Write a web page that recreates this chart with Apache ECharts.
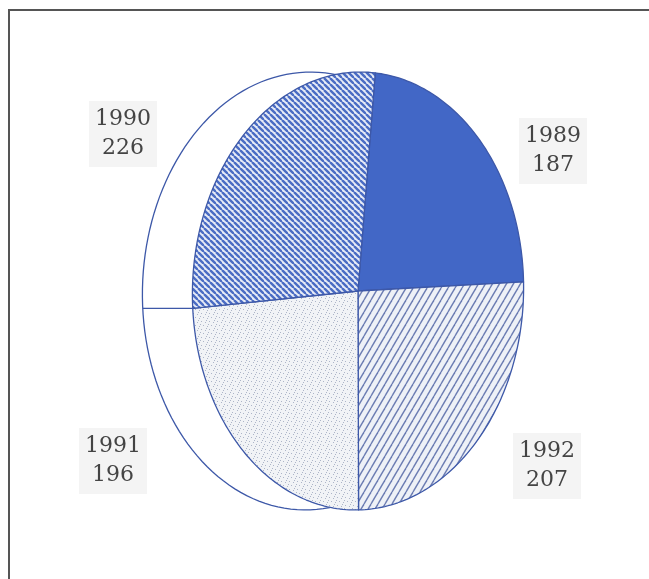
<!DOCTYPE html>
<html><head><meta charset="utf-8">
<script src="https://cdn.jsdelivr.net/npm/echarts@6/dist/echarts.min.js"></script>
<style>html,body{margin:0;padding:0;background:#fff}#c{width:649px;height:579px}</style>
</head><body><div id="c"></div>
<script>
// ---- data (clockwise from 12 o'clock) ----
const years  = ['1989', '1992', '1991', '1990'];
const values = [187, 207, 196, 226];

// ---- layout / style constants ----
const CENTER = [358, 291];
const RADIUS = 219;          // vertical semi-axis
const SQUASH = 0.756;        // horizontal / vertical
const TILT = 1.5 * Math.PI / 180; // clockwise tilt of the disc
const DEPTH = 50;            // rim offset to the left
const START_ANGLE = 86;
const OUTLINE = '#3d58a8';
const LABEL_POS = [[553, 151], [547, 466], [113, 461], [123, 134]];

function makeTile(w, h, draw) {
  const cv = document.createElement('canvas');
  cv.width = w; cv.height = h;
  const g = cv.getContext('2d');
  draw(g, w, h);
  return { image: cv, repeat: 'repeat' };
}
const fillSolid = '#4267c6';
const fillBack = makeTile(6, 6, (g, w, h) => {      // "\\\\" hatch
  g.fillStyle = '#e6ebf6'; g.fillRect(0, 0, w, h);
  g.strokeStyle = '#4a6cc4'; g.lineWidth = 2.4;
  for (let o = -w; o <= w; o += w) { g.beginPath(); g.moveTo(o, 0); g.lineTo(o + w, h); g.stroke(); }
});
const fillFwd = makeTile(7, 12, (g, w, h) => {      // "////" hatch
  g.fillStyle = '#eef1f7'; g.fillRect(0, 0, w, h);
  g.strokeStyle = '#6b7cb2'; g.lineWidth = 1.4;
  for (let o = -w; o <= w; o += w) { g.beginPath(); g.moveTo(o, h); g.lineTo(o + w, 0); g.stroke(); }
});
const fillDots = makeTile(8, 8, (g, w, h) => {      // stipple
  g.fillStyle = '#f1f3f6'; g.fillRect(0, 0, w, h);
  g.fillStyle = '#adb5c8';
  [[1,1],[5,2],[3,5],[7,6],[0,4],[6,0]].forEach(p => g.fillRect(p[0], p[1], 1, 1));
});
const FILLS = [fillSolid, fillFwd, fillDots, fillBack];

const TOTAL = values.reduce((a, b) => a + b, 0);
let acc = 0;
const seriesData = values.map((v, i) => { const d = [1, acc, acc + v, v]; acc += v; return d; });

function renderItem(params, api) {
  const i = params.dataIndex;
  const a0 = api.value(1), a1 = api.value(2);
  const c = api.coord([0, a0]);
  const cs = Math.cos(TILT), sn = Math.sin(TILT);
  const sq = p => {
    const dx = (p[0] - c[0]) * SQUASH, dy = p[1] - c[1];
    return [c[0] + dx * cs - dy * sn, c[1] + dx * sn + dy * cs];
  };
  const children = [];
  if (i === 0) {
    const back = [];
    for (let k = 0; k <= 160; k++) {
      const p = sq(api.coord([1, TOTAL * k / 160]));
      back.push([p[0] - DEPTH, p[1]]);
    }
    children.push({ type: 'polygon', z2: 1, shape: { points: back },
      style: { fill: '#ffffff', stroke: OUTLINE, lineWidth: 1.3 } });
  }
  const ps = sq(api.coord([1, a0]));
  if (ps[0] < c[0] - 0.5 * RADIUS * SQUASH) {
    children.push({ type: 'line', z2: 2,
      shape: { x1: ps[0], y1: ps[1], x2: ps[0] - DEPTH, y2: ps[1] },
      style: { stroke: OUTLINE, lineWidth: 1.3 } });
  }
  const pts = [c];
  const N = 80;
  for (let k = 0; k <= N; k++) pts.push(sq(api.coord([1, a0 + (a1 - a0) * k / N])));
  children.push({ type: 'polygon', z2: 5, shape: { points: pts },
    style: { fill: FILLS[i], stroke: OUTLINE, lineWidth: 1.3, lineJoin: 'round' } });
  children.push({ type: 'text', z2: 10,
    style: { text: years[i] + '\n' + values[i], x: LABEL_POS[i][0], y: LABEL_POS[i][1],
      align: 'center', verticalAlign: 'middle', font: '22px "DejaVu Serif"',
      fill: '#444444', lineHeight: 29, backgroundColor: '#f4f4f4', padding: [4, 6] } });
  return { type: 'group', children };
}

const chart = echarts.init(document.getElementById('c'));
chart.setOption({
  backgroundColor: '#ffffff',
  animation: false,
  polar: { center: CENTER, radius: RADIUS },
  angleAxis: { type: 'value', min: 0, max: TOTAL, startAngle: START_ANGLE, clockwise: true, show: false },
  radiusAxis: { type: 'value', min: 0, max: 1, show: false },
  graphic: [{ type: 'rect', shape: { x: 9, y: 10, width: 700, height: 620 },
    style: { fill: 'none', stroke: '#555555', lineWidth: 2 } }],
  series: [{
    type: 'custom', coordinateSystem: 'polar',
    encode: { radius: 0, angle: 1 },
    data: seriesData, renderItem
  }]
});
</script></body></html>
